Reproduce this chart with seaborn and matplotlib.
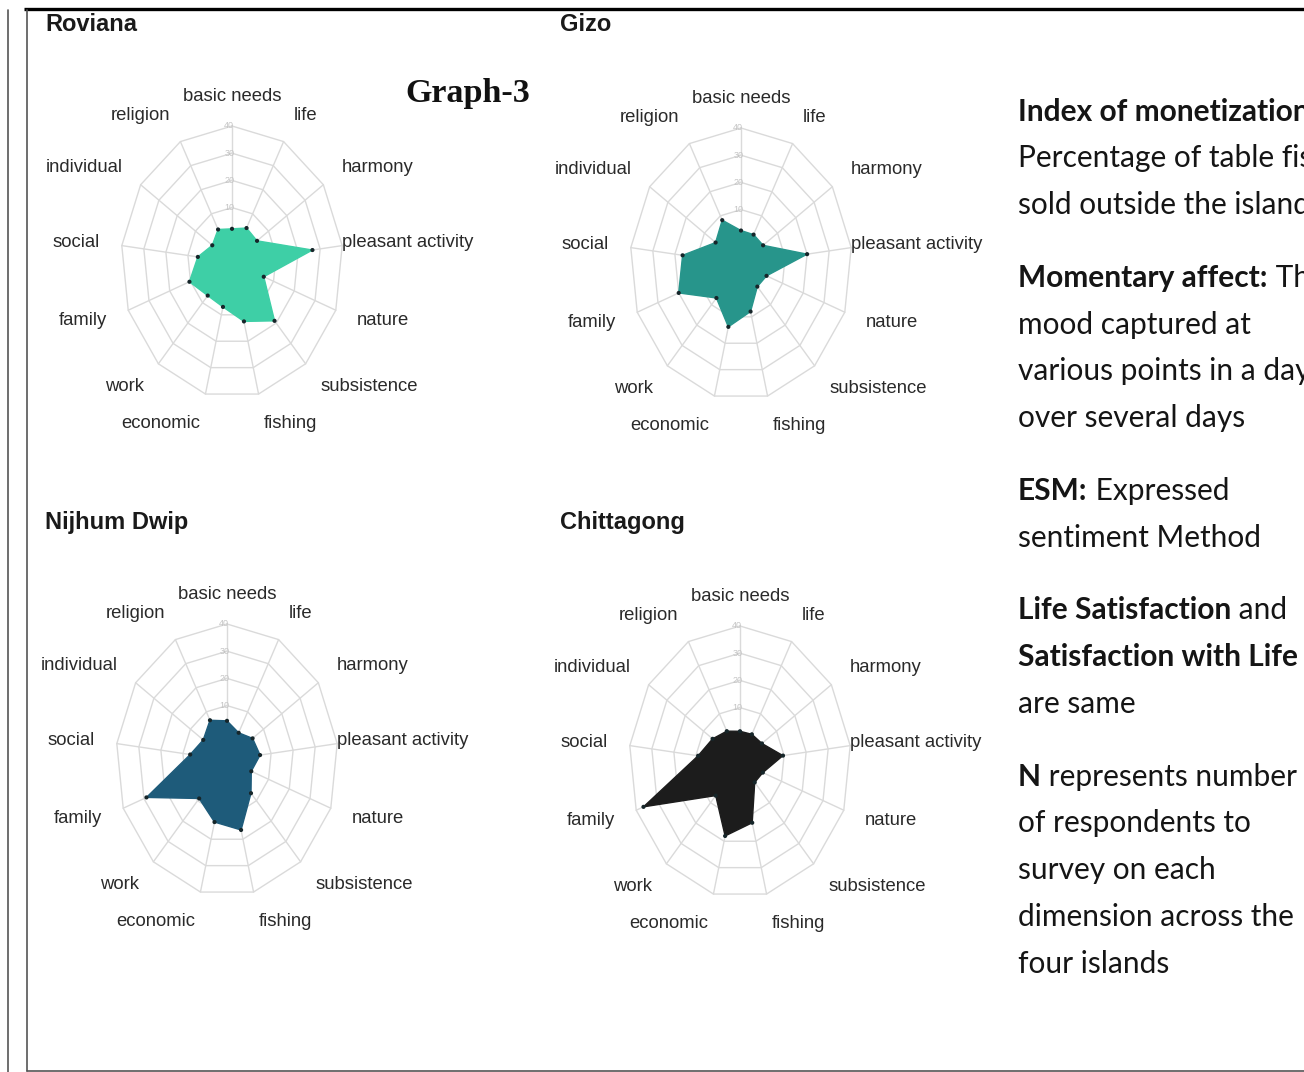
import numpy as np
import matplotlib
matplotlib.use("Agg")
import matplotlib.pyplot as plt
import seaborn as sns

# ---------------- data ----------------
categories = ["basic needs", "life", "harmony", "pleasant activity", "nature",
              "subsistence", "fishing", "economic", "work", "family",
              "social", "individual", "religion"]

roviana    = [2.2, 4.1, 3.7, 26.5, 5.3, 18.9, 12.5, 7.0, 6.5, 10.5, 5.5, 0.8, 3.5]
gizo       = [2.3, 2.2, 2.1, 20.0, 2.3, 1.1, 8.0, 13.8, 6.7, 20.0, 16.5, 3.9, 8.2]
nijhum     = [4.4, 1.3, 4.0, 5.0, 1.7, 6.3, 16.5, 13.5, 8.9, 28.8, 6.7, 3.0, 6.5]
chittagong = [1.3, 1.5, 2.0, 9.5, 1.0, 0.0, 13.0, 18.0, 6.5, 36.5, 9.0, 5.0, 2.8]

islands = ["Roviana", "Gizo", "Nijhum Dwip", "Chittagong"]
series = [roviana, gizo, nijhum, chittagong]
colors = ["#3ecfa6", "#27958b", "#1e5b7a", "#1c1c1c"]
ring_ticks = [0, 10, 20, 30, 40]

# ---------------- style ----------------
sns.set_theme(style="white")
plt.rcParams['font.family'] = ['Liberation Sans', 'DejaVu Sans']

W, H = 1304, 1072
fig = plt.figure(figsize=(W / 100, H / 100), dpi=100)
fig.patch.set_facecolor("white")

# overlay axes in pixel units for decorations / free text
ax0 = fig.add_axes([0, 0, 1, 1])
ax0.set_xlim(0, W)
ax0.set_ylim(H, 0)
ax0.axis("off")

# page borders
ax0.plot([24, W], [8.5, 8.5], color="black", lw=2.4, solid_capstyle="butt", clip_on=False)
ax0.plot([8, 8], [10, H], color="#555555", lw=1.2, clip_on=False)
ax0.plot([27, 27], [10, 1071], color="#555555", lw=1.2, clip_on=False)
ax0.plot([27, W], [1070.5, 1070.5], color="#555555", lw=1.2, clip_on=False)

# ---------------- radar charts ----------------
OFFSET = 10            # centre gap (fmsb style)
RMAX = ring_ticks[-1] + OFFSET
n = len(categories)
theta = np.arange(n) * 2 * np.pi / n

centers = [(232, 262), (741, 264), (227, 760), (740, 762)]
title_pos = [(45, 31), (560, 31), (45, 529), (560, 529)]
RX, RY = 111, 136
XL, YL = 80, 60

for (cx, cy), (tx, ty), name, vals, col in zip(centers, title_pos, islands, series, colors):
    w = 2 * XL * RX / RMAX
    h = 2 * YL * RY / RMAX
    ax = fig.add_axes([(cx - w / 2) / W, (H - cy - h / 2) / H, w / W, h / H])

    # polygon grid
    closed = np.append(theta, theta[0])
    for v in ring_ticks:
        r = v + OFFSET
        ax.plot(r * np.sin(closed), r * np.cos(closed), color="#dadada", lw=1.0, zorder=1)
    for t in theta:
        ax.plot([OFFSET * np.sin(t), RMAX * np.sin(t)],
                [OFFSET * np.cos(t), RMAX * np.cos(t)], color="#dadada", lw=1.0, zorder=1)
    for v in ring_ticks:
        ax.text(1.0, v + OFFSET, str(v), fontsize=6.5, color="#c4c4c4",
                ha="right", va="center", zorder=2)

    # data polygon
    r = np.array(vals) + OFFSET
    xs = r * np.sin(theta)
    ys = r * np.cos(theta)
    ax.fill(xs, ys, color=col, lw=1.0, zorder=3)
    sns.scatterplot(x=xs, y=ys, ax=ax, color="#16262a", s=9, edgecolor="none",
                    legend=False, zorder=4)

    # category labels
    for lab, t in zip(categories, theta):
        s, c = np.sin(t), np.cos(t)
        if abs(s) < 0.1:
            ha = "center"
        elif s > 0:
            ha = "left"
        else:
            ha = "right"
        fx = 1.0 if abs(s) > 0.98 and s > 0 else 1.2
        ax.text(fx * RMAX * s, 1.22 * RMAX * c, lab, ha=ha, va="center",
                fontsize=13.3, color="#2a2a2a", clip_on=False)

    ax.set_xlim(-XL, XL)
    ax.set_ylim(-YL, YL)
    ax.set_xlabel("")
    ax.set_ylabel("")
    ax.axis("off")

    ax0.text(tx, ty, name, fontsize=17, fontweight="bold", color="#1a1a1a", va="baseline")

ax0.text(405, 102, "Graph-3", fontsize=24.5, fontweight="bold", color="#111111",
         family=["Liberation Serif", "DejaVu Serif"], va="baseline")

# ---------------- right-hand notes ----------------
notes = [
    (121, "Index of monetization:", ""),
    (167, "", "Percentage of table fish"),
    (214, "", "sold outside the islands"),
    (287, "Momentary affect:", " The"),
    (334, "", "mood captured at"),
    (380, "", "various points in a day"),
    (427, "", "over several days"),
    (500, "ESM:", " Expressed"),
    (547, "", "sentiment Method"),
    (619, "Life Satisfaction", " and"),
    (666, "Satisfaction with Life", ""),
    (713, "", "are same"),
    (786, "N", " represents number"),
    (832, "", "of respondents to"),
    (879, "", "survey on each"),
    (926, "", "dimension across the"),
    (973, "", "four islands"),
]
note_font = ["Lato", "DejaVu Sans"]
NFS = 21.5
NX = 1018
for y, bold, reg in notes:
    if bold:
        tb = ax0.text(NX, y, bold, fontsize=NFS, fontweight="bold", family=note_font,
                      color="#151515", va="baseline", clip_on=False)
        if reg:
            ax0.annotate(reg, xy=(1, 0), xycoords=tb, fontsize=NFS, family=note_font,
                         color="#151515", va="bottom", ha="left", annotation_clip=False)
    else:
        ax0.text(NX, y, reg, fontsize=NFS, family=note_font, color="#151515",
                 va="baseline", clip_on=False)

fig.savefig("out.png", dpi=100, facecolor="white")
